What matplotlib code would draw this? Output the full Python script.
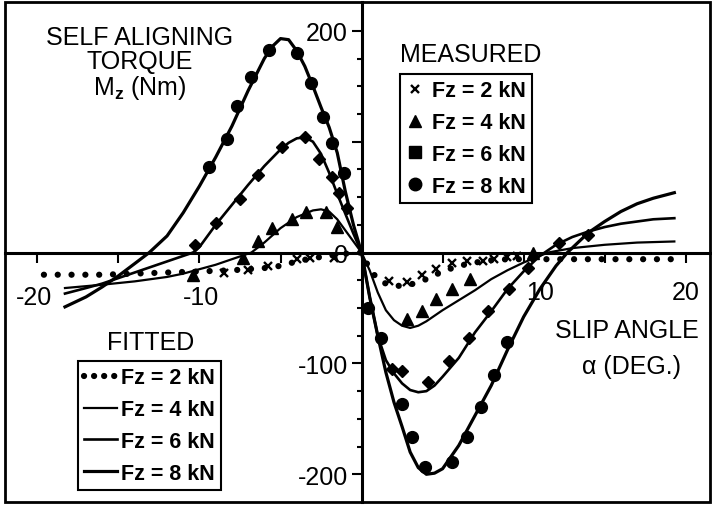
import matplotlib.pyplot as plt
from matplotlib.patches import Rectangle
from matplotlib.lines import Line2D

plt.rcParams['font.family'] = ['Liberation Sans', 'DejaVu Sans']
plt.rcParams['mathtext.fontset'] = 'custom'
plt.rcParams['mathtext.rm'] = 'Liberation Sans'
plt.rcParams['mathtext.bf'] = 'Liberation Sans:bold'

# fitted curves
fit8_x = [-18.3, -17, -16, -15, -14, -13.1, -12, -11, -10, -9, -8, -7, -6, -5.5, -5, -4.5,
          -4, -3.5, -3, -2.5, -2, -1.5, -1, -0.5, 0, 0.5, 1, 1.5, 2, 2.5, 3, 3.5, 4, 4.5,
          5, 6, 7, 8, 9, 10, 11, 12, 12.7, 14, 15, 16, 17, 18, 19.3]
fit8_y = [-49, -40, -31, -21, -10, 0, 15, 36, 60, 86, 114, 146, 175, 186, 193, 192,
          182, 168, 150, 131, 113, 90, 55, 25, 0, -40, -75, -108, -135, -157, -180, -194, -200, -199,
          -195, -174, -147, -120, -88, -58, -33, -12, 0, 18, 28, 37, 44, 49, 54]

fit6_x = [-18.3, -17, -16, -15, -14, -13, -12, -11, -10.4, -10, -9, -8, -7, -6, -5, -4.5,
          -4, -3.5, -3, -2.5, -2, -1.5, -1, -0.5, 0, 0.5, 1, 1.5, 2, 2.5, 3, 3.5, 4, 4.5,
          5, 6, 7, 8, 9, 10, 11, 12, 13, 14, 15, 16, 17, 18, 19.3]
fit6_y = [-37, -32, -28, -23, -18, -13, -8, -3, 0, 5, 25, 43, 61, 78, 93, 99,
          103, 104, 100, 89, 72, 53, 35, 17, 0, -40, -75, -97, -109, -118, -124, -126, -125, -120,
          -112, -95, -72, -53, -33, -17, -3, 7, 14, 19, 23, 26, 28, 30, 31]

fit4_x = [-18.3, -16, -14, -12, -11, -10, -9, -8, -6.8, -6, -5, -4, -3, -2.5, -2, -1.5,
          -1, -0.5, 0, 0.5, 1, 1.5, 2, 2.5, 3, 3.5, 4, 5, 6, 7, 8, 9, 10, 11, 11.5,
          13, 15, 17, 19.3]
fit4_y = [-32, -29, -26, -22, -19, -15, -11, -6, 0, 9, 22, 32, 38, 39, 37, 30,
          20, 10, 0, -16, -36, -52, -61, -66, -68, -66, -62, -52, -43, -34, -24, -16, -9, -3, 0,
          4, 7, 9, 10]

fit2_x = [-19.6, -18, -16, -14, -12, -10, -8, -6, -5, -4, -3, -2, -1, 0, 0.5, 1, 1.5,
          2, 2.5, 3, 4, 5, 6, 7, 8, 9, 10, 12, 14, 16, 18, 19.6]
fit2_y = [-20, -20, -20, -19, -18, -17, -16, -14, -12, -8, -5, -3, -1, 0, -15, -24, -28,
          -30, -30, -29, -24, -17, -12, -9, -7, -6, -6, -6, -6, -6, -6, -6]

# measured points
m8_x = [-9.4, -8.3, -7.7, -6.8, -5.7, -4.0, -3.1, -2.4, -1.8, -1.1, 0.4, 1.2, 2.5, 3.1,
        3.9, 5.6, 6.5, 7.4, 8.2, 9.0]
m8_y = [77, 102, 132, 158, 183, 180, 153, 122, 99, 72, -50, -77, -137, -166,
        -193, -189, -166, -139, -110, -81]

m6_x = [-10.3, -9.0, -7.5, -6.4, -4.9, -3.5, -2.6, -1.8, -1.4, -0.9, 1.9, 2.5, 4.1, 5.4,
        6.6, 7.8, 9.1, 10.3, 12.2, 14.0]
m6_y = [7, 27, 48, 70, 95, 104, 84, 68, 54, 40, -105, -107, -117, -98,
        -77, -53, -33, -14, 9, 16]

m4_x = [-10.4, -7.3, -6.4, -5.5, -4.3, -3.4, -2.2, -1.5, 2.8, 3.7, 4.6, 5.6, 6.7, 10.6]
m4_y = [-20, -5, 10, 22, 30, 37, 37, 23, -60, -53, -42, -33, -24, 0]

m2_x = [-8.5, -7.0, -5.8, -4.0, -3.2, -1.7, 1.7, 2.8, 3.7, 4.6, 5.6, 6.5, 7.5, 8.2, 9.0, 9.6]
m2_y = [-18, -16, -12, -6, -5, -5, -26, -27, -20, -15, -9, -8, -8, -6, -4, -3]

loads = ['Fz = 2 kN', 'Fz = 4 kN', 'Fz = 6 kN', 'Fz = 8 kN']
xlabels = ['-20', '-10', '10', '20']
xlabel_pos = [(-20.2, -40), (-9.9, -40), (11.0, -36), (20.0, -36)]

fig = plt.figure(figsize=(7.12, 5.06), dpi=100)
ax = fig.add_axes([5 / 712, 3 / 506, 705 / 712, 500 / 506])
ax.set_xlim(-22.0, 21.5)
ax.set_ylim(-225, 226)

# fitted lines
ax.plot(fit2_x, fit2_y, color='black', lw=4.5, linestyle=(0, (0.01, 2.2)),
        dash_capstyle='round')
ax.plot(fit4_x, fit4_y, color='black', lw=1.6)
ax.plot(fit6_x, fit6_y, color='black', lw=1.9)
ax.plot(fit8_x, fit8_y, color='black', lw=2.3)

# measured markers
ax.plot(m2_x, m2_y, 'x', color='black', ms=5.5, mew=1.7)
ax.plot(m4_x, m4_y, '^', color='black', ms=8)
ax.plot(m6_x, m6_y, 'D', color='black', ms=6.5)
ax.plot(m8_x, m8_y, 'o', color='black', ms=8.5)

# axes crossing at zero
for s in ['top', 'right']:
    ax.spines[s].set_visible(False)
ax.spines['left'].set_position(('data', 0))
ax.spines['bottom'].set_position(('data', 0))
ax.spines['left'].set_linewidth(2.2)
ax.spines['bottom'].set_linewidth(2.2)
ax.add_patch(Rectangle((0, 0), 1, 1, transform=ax.transAxes, fill=False,
                       lw=2.0, color='black', clip_on=False))

ax.set_xticks([-20, -15, -10, -5, 5, 10, 15, 20])
ax.set_xticklabels([])
ax.tick_params(axis='x', direction='out', length=7, width=1.5)
for lab, (lx, ly) in zip(xlabels, xlabel_pos):
    ax.text(lx, ly, lab, ha='center', va='center', fontsize=18)

ax.set_yticks([-200, -100, 0, 100, 200])
ax.set_yticklabels(['-200', '-100', '0', '', '200'])
ax.set_yticks(list(range(-200, 201, 25)), minor=True)
ax.tick_params(axis='y', which='major', direction='out', length=7, width=1.5, pad=3, labelsize=18)
ax.tick_params(axis='y', which='minor', direction='out', length=3.5, width=1.5)

ax.text(0.1915, 0.930, 'SELF ALIGNING', transform=ax.transAxes, ha='center', va='center', fontsize=18)
ax.text(0.1915, 0.882, 'TORQUE', transform=ax.transAxes, ha='center', va='center', fontsize=18)
ax.text(0.1915, 0.830, 'M$_{\\mathbf{z}}$ (Nm)', transform=ax.transAxes, ha='center', va='center', fontsize=18)
ax.text(0.882, 0.344, 'SLIP ANGLE', transform=ax.transAxes, ha='center', va='center', fontsize=18)
ax.text(0.889, 0.272, '\u03b1 (DEG.)', transform=ax.transAxes, ha='center', va='center', fontsize=18)

# legends
mh = [Line2D([], [], marker='x', ls='none', color='black', ms=5.5, mew=1.7),
      Line2D([], [], marker='^', ls='none', color='black', ms=8),
      Line2D([], [], marker='s', ls='none', color='black', ms=8),
      Line2D([], [], marker='o', ls='none', color='black', ms=9)]
leg1 = ax.legend(mh, loads, loc='upper left', bbox_to_anchor=(0.56, 0.856),
                 prop={'weight': 'bold', 'size': 15.5}, frameon=True, fancybox=False,
                 edgecolor='black', framealpha=1, handlelength=0.8, handletextpad=0.4,
                 labelspacing=0.5, borderpad=0.3, borderaxespad=0)
leg1.get_frame().set_linewidth(1.5)
ax.add_artist(leg1)
ax.text(0.66, 0.896, 'MEASURED', transform=ax.transAxes, ha='center', va='center', fontsize=18)

fh = [Line2D([], [], color='black', lw=4.5, linestyle=(0, (0.01, 1.6)), dash_capstyle='round'),
      Line2D([], [], color='black', lw=1.6),
      Line2D([], [], color='black', lw=1.9),
      Line2D([], [], color='black', lw=2.3)]
leg2 = ax.legend(fh, loads, loc='upper left', bbox_to_anchor=(0.1035, 0.282),
                 prop={'weight': 'bold', 'size': 15.5}, frameon=True, fancybox=False,
                 edgecolor='black', framealpha=1, handlelength=1.5, handletextpad=0.2,
                 labelspacing=0.5, borderpad=0.3, borderaxespad=0)
leg2.get_frame().set_linewidth(1.5)
ax.text(0.207, 0.32, 'FITTED', transform=ax.transAxes, ha='center', va='center', fontsize=18)

fig.savefig('out.png', dpi=100)
